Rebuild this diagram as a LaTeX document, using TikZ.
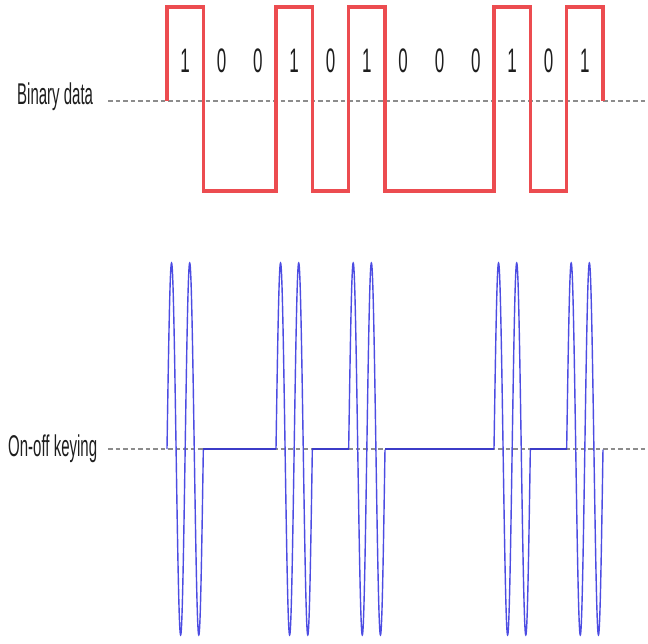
\documentclass[tikz,border=0pt]{standalone}
\usepackage{fontspec}
\usepackage{graphicx}
\setmainfont{Liberation Sans}
\definecolor{sigred}{RGB}{236,76,80}
\definecolor{sigblue}{RGB}{76,76,226}
\definecolor{flatblue}{RGB}{60,60,200}
\definecolor{axisgray}{RGB}{140,140,140}
\definecolor{inkgray}{RGB}{30,30,30}
\tikzset{
  axisline/.style={axisgray, line width=2.8pt, dash pattern=on 4.5pt off 3pt},
  datawave/.style={sigred, line width=3.4pt, line join=miter},
  carrier/.style={sigblue, line width=1.4pt},
  labeltext/.style={inkgray, inner sep=0pt, font=\fontsize{30}{32}\selectfont},
  bittext/.style={inkgray, inner sep=0pt, font=\fontsize{34}{36}\selectfont},
}
\newcommand{\narrow}[1]{\scalebox{0.5}[1]{#1}}
\begin{document}
\begin{tikzpicture}[x=1pt, y=-1pt]
  \useasboundingbox (0,0) rectangle (648,644);
  \pgfmathsetmacro{\xo}{167}
  \pgfmathsetmacro{\bw}{36.333}

  % reference levels
  \draw[axisline] (108,101) -- (648,101);
  \draw[axisline] (108,449) -- (648,449);

  % row labels
  \node[labeltext, anchor=base west] (lblbin) at (17,105) {\narrow{Binary data}};
  \node[labeltext, anchor=base west] (lblook) at (8,456) {\narrow{On-off keying}};

  % binary data waveform 1 0 0 1 0 1 0 0 0 1 0 1
  \draw[datawave]
    ({\xo},101) -- ({\xo},7) -- ({\xo+1*\bw},7) -- ({\xo+1*\bw},191)
    -- ({\xo+3*\bw},191) -- ({\xo+3*\bw},7) -- ({\xo+4*\bw},7)
    -- ({\xo+4*\bw},191) -- ({\xo+5*\bw},191) -- ({\xo+5*\bw},7)
    -- ({\xo+6*\bw},7) -- ({\xo+6*\bw},191) -- ({\xo+9*\bw},191)
    -- ({\xo+9*\bw},7) -- ({\xo+10*\bw},7) -- ({\xo+10*\bw},191)
    -- ({\xo+11*\bw},191) -- ({\xo+11*\bw},7) -- ({\xo+12*\bw},7)
    -- ({\xo+12*\bw},101);

  % bit values
  \foreach \v [count=\i from 0] in {1,0,0,1,0,1,0,0,0,1,0,1} {
    \node[bittext, anchor=base] (bit\i) at ({\xo+(\i+0.5)*\bw},73) {\narrow{\v}};
  }

  % keyed carrier: two cycles per one-bit
  \foreach \b in {0,3,5,9,11} {
    \draw[carrier] plot[domain=0:1, samples=241, smooth]
      ({\xo+\bw*(\b+\x)}, {449-186*sin(720*\x)});
  }
  % carrier off during zero-bits
  \foreach \s/\e in {1/3,4/5,6/9,10/11} {
    \draw[flatblue, line width=2.4pt] ({\xo+\s*\bw},449) -- ({\xo+\e*\bw},449);
  }
\end{tikzpicture}
\end{document}
